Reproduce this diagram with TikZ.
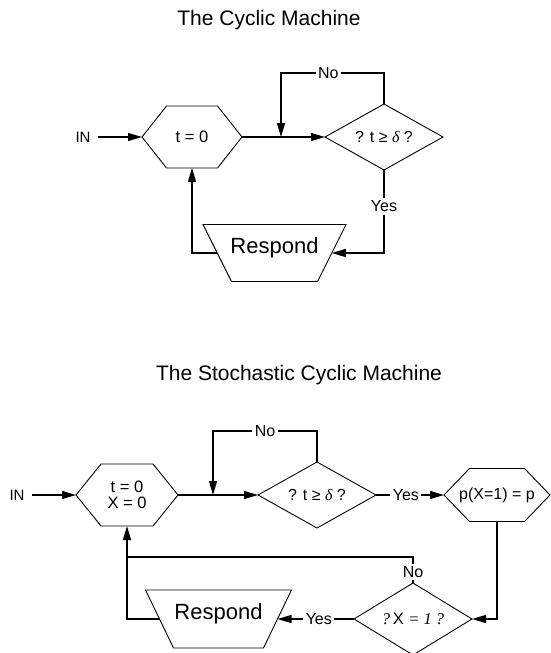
\documentclass[tikz,border=0pt]{standalone}
\usepackage{fontspec}
\setmainfont{Liberation Sans}
\newfontfamily\seriffont{Liberation Serif}
\usetikzlibrary{arrows.meta,calc}

\tikzset{
  outline/.style={draw=black, line width=0.9pt, line join=miter},
  conn/.style={draw=black, line width=1.3pt},
  arr/.style={conn, -{Triangle[length=14pt,width=8pt]}},
  lbl/.style={fill=white, inner sep=2.5pt, font=\fontsize{16}{16}\selectfont},
  ttl/.style={inner sep=0pt, font=\fontsize{21}{24}\selectfont},
  intxt/.style={inner xsep=7pt, inner ysep=0pt, font=\fontsize{15}{15}\selectfont},
  hextxt/.style={inner sep=0pt, align=center, font=\fontsize{16.5}{15.5}\selectfont},
  diatxt/.style={inner sep=0pt, font=\fontsize{16}{16}\selectfont},
  resp/.style={inner sep=0pt, font=\fontsize{22}{24}\selectfont},
}

% hexagon round a node: name, half width, half top edge, half height
\newcommand\hexshape[4]{%
  \path (#1) ++(-#2,0) coordinate (#1-w) (#1) ++(#2,0) coordinate (#1-e)
        (#1) ++(0,-#4) coordinate (#1-n) (#1) ++(0,#4) coordinate (#1-s);
  \draw[outline] (#1-w) -- ($(#1)+(-#3,-#4)$) -- ($(#1)+(#3,-#4)$) -- (#1-e)
     -- ($(#1)+(#3,#4)$) -- ($(#1)+(-#3,#4)$) -- cycle;}

% diamond round a node: name, half width, half height
\newcommand\diashape[3]{%
  \path (#1) ++(-#2,0) coordinate (#1-w) (#1) ++(#2,0) coordinate (#1-e)
        (#1) ++(0,-#3) coordinate (#1-n) (#1) ++(0,#3) coordinate (#1-s);
  \draw[outline] (#1-w) -- (#1-n) -- (#1-e) -- (#1-s) -- cycle;}

% inverted trapezium centred on a node's baseline: name, half top, half bottom, half height
\newcommand\trapshape[4]{%
  \path (#1.base) ++({-(#2+#3)/2},0) coordinate (#1-w)
        (#1.base) ++({(#2+#3)/2},0) coordinate (#1-e);
  \draw[outline] ($(#1.base)+(-#2,-#4)$) -- ($(#1.base)+(#2,-#4)$)
     -- ($(#1.base)+(#3,#4)$) -- ($(#1.base)+(-#3,#4)$) -- cycle;}

\begin{document}
\begin{tikzpicture}[x=1pt,y=-1pt]
\useasboundingbox (0,0) rectangle (551,653);

% titles
\node[ttl, anchor=base] (title1) at (269,25) {The Cyclic Machine};
\node[ttl, anchor=base] (title2) at (299,380) {The Stochastic Cyclic Machine};

% ---------- the cyclic machine ----------
\node[intxt] (inA) at (83,137) {IN};
\node[hextxt] (hexA) at (192,137) {t = 0};
\hexshape{hexA}{50}{25.5}{31}
\node[diatxt] (diaA) at (384,137) {? t ≥ {\seriffont\itshape δ} ?};
\diashape{diaA}{59}{33}
\node[resp, anchor=base] (respA) at (274.5,253) {Respond};
\trapshape{respA}{71.5}{43}{28.5}
\coordinate (jA) at (281,137);

\draw[arr] (inA) -- (hexA-w);
\draw[conn] (hexA-e) -- (jA);
\draw[arr] (jA) -- (diaA-w);
\draw[arr] (diaA-n) -- ++(0,-31) -| node[lbl,pos=0.27]{No} (jA);
\draw[arr] (diaA-s) |- node[lbl,pos=0.22]{Yes} (respA-e);
\draw[arr] (respA-w) -| (hexA-s);

% ---------- the stochastic cyclic machine ----------
\node[intxt] (inB) at (17,495) {IN};
\node[hextxt] (hexB) at (127,495) {t = 0\\X = 0};
\hexshape{hexB}{51}{26}{31}
\coordinate (jB) at (213,495);
\node[diatxt] (diaB) at (317,495) {? t ≥ {\seriffont\itshape δ} ?};
\diashape{diaB}{59}{33}
\node[hextxt, font=\fontsize{16}{16}\selectfont] (hexC) at (497,495) {p(X=1) = p};
\hexshape{hexC}{53}{27.5}{26.5}
\node[diatxt, font=\fontsize{16.5}{16}\selectfont] (diaC) at (413,619)
  {{\seriffont\itshape ?}\,X {\seriffont\itshape = 1 ?}};
\diashape{diaC}{59}{36}
\node[resp, anchor=base] (respB) at (218.5,619) {Respond};
\trapshape{respB}{73}{45}{29}
\path (hexB-s) ++(0,31) coordinate (mB);

\draw[arr] (inB) -- (hexB-w);
\draw[conn] (hexB-e) -- (jB);
\draw[arr] (jB) -- (diaB-w);
\draw[arr] (diaB-n) -- ++(0,-31) -| node[lbl,pos=0.25]{No} (jB);
\draw[arr] (diaB-e) -- node[lbl,pos=0.44]{Yes} (hexC-w);
\draw[arr] (hexC-s) |- (diaC-e);
\draw[arr] (diaC-w) -- node[lbl,pos=0.46]{Yes} (respB-e);
\draw[conn] (diaC-n) |- node[lbl,pos=0.21]{No} (mB);
\draw[arr] (respB-w) -| (hexB-s);
\end{tikzpicture}
\end{document}
